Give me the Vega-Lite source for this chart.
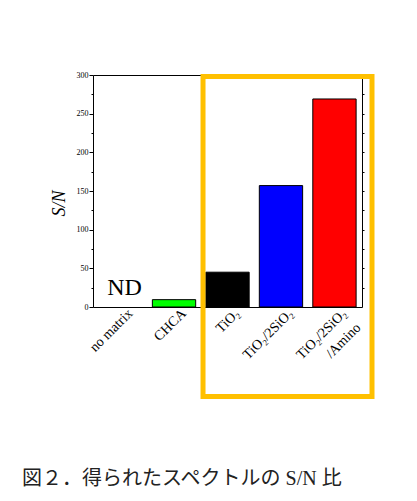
{
  "$schema": "https://vega.github.io/schema/vega-lite/v6.json",
  "width": 269,
  "height": 232,
  "autosize": "none",
  "padding": {"left": 93, "top": 75, "right": 55, "bottom": 194},
  "background": "white",
  "config": {
    "view": {"stroke": "black", "strokeWidth": 1},
    "font": "Liberation Serif",
    "axis": {"domainColor": "black", "tickColor": "black", "labelColor": "black", "titleColor": "black", "grid": false},
    "style": {"caption": {"letterSpacing": 2.2}}
  },
  "title": {
    "text": "図２．得られたスペクトルの S/N 比",
    "orient": "bottom",
    "anchor": "start",
    "frame": "group",
    "style": "caption",
    "font": "'Liberation Serif', 'Noto Sans CJK JP'",
    "fontSize": 20,
    "fontWeight": "normal",
    "color": "#222222",
    "dx": -71,
    "offset": 70
  },
  "datasets": {
    "sn": [
      {"sample": "no matrix", "value": null},
      {"sample": "CHCA", "value": 9.5},
      {"sample": "TiO₂", "value": 45},
      {"sample": "TiO₂/2SiO₂", "value": 157},
      {"sample": "TiO₂/2SiO₂|/Amino", "value": 269}
    ],
    "nd": [{"sample": "no matrix", "value": 0, "label": "ND"}],
    "box": [{"x1": 2.045, "x2": 5.186, "y1": 298, "y2": -115.7}]
  },
  "layer": [
    {
      "layer": [
        {
          "data": {"name": "sn"},
          "mark": {"type": "bar", "stroke": "black", "strokeWidth": 1},
          "encoding": {
            "x": {
              "field": "sample", "type": "nominal", "sort": null,
              "scale": {"domain": ["no matrix", "CHCA", "TiO₂", "TiO₂/2SiO₂", "TiO₂/2SiO₂|/Amino"], "paddingInner": 0.19, "paddingOuter": 0.11},
              "axis": {
                "title": null, "labelAngle": -45, "labelAlign": "right", "labelBaseline": "middle",
                "labelFontSize": 14, "labelOffset": 10, "labelPadding": 4, "ticks": false, "domain": false,
                "labelExpr": "split(datum.label, '|')", "labelLineHeight": 20
              }
            },
            "y": {
              "field": "value", "type": "quantitative",
              "scale": {"domain": [0, 300], "nice": false},
              "axis": {
                "title": "S/N", "titleFont": "Liberation Serif", "titleFontStyle": "italic", "titleFontWeight": "normal",
                "titleFontSize": 18, "titlePadding": 8, "titleY": 128,
                "values": [0, 50, 100, 150, 200, 250, 300], "tickSize": 4, "labelFontSize": 8, "labelPadding": 1,
                "domain": false, "orient": "left"
              }
            },
            "color": {
              "field": "sample", "type": "nominal", "legend": null,
              "scale": {"domain": ["no matrix", "CHCA", "TiO₂", "TiO₂/2SiO₂", "TiO₂/2SiO₂|/Amino"], "range": ["#ffffff", "#00ff00", "#000000", "#0000ff", "#ff0000"]}
            }
          }
        },
        {
          "data": {"name": "nd"},
          "mark": {"type": "text", "fontSize": 24, "font": "Liberation Serif", "letterSpacing": -1, "baseline": "alphabetic", "dy": -12, "dx": 4, "color": "black"},
          "encoding": {
            "x": {"field": "sample", "type": "nominal", "sort": null},
            "y": {
              "field": "value", "type": "quantitative",
              "scale": {"domain": [0, 300], "nice": false},
              "axis": {"title": null, "orient": "left", "values": [25, 75, 125, 175, 225, 275], "tickSize": 2, "labels": false, "domain": false}
            },
            "text": {"field": "label"}
          }
        }
      ],
      "resolve": {"axis": {"y": "independent"}}
    },
    {
      "data": {"name": "box"},
      "mark": {"type": "rect", "fill": null, "filled": false, "stroke": "#ffc000", "strokeWidth": 5, "clip": false},
      "encoding": {
        "x": {"field": "x1", "type": "quantitative", "scale": {"domain": [0, 5], "nice": false, "zero": false}, "axis": null},
        "x2": {"field": "x2"},
        "y": {
          "field": "y1", "type": "quantitative",
          "scale": {"domain": [0, 300], "nice": false},
          "axis": {"title": null, "orient": "right", "values": [25, 50, 75, 100, 125, 150, 175, 200, 225, 250, 275], "tickSize": 2, "labels": false, "domain": false}
        },
        "y2": {"field": "y2"}
      }
    }
  ],
  "resolve": {"scale": {"x": "independent"}, "axis": {"x": "independent", "y": "independent"}}
}
